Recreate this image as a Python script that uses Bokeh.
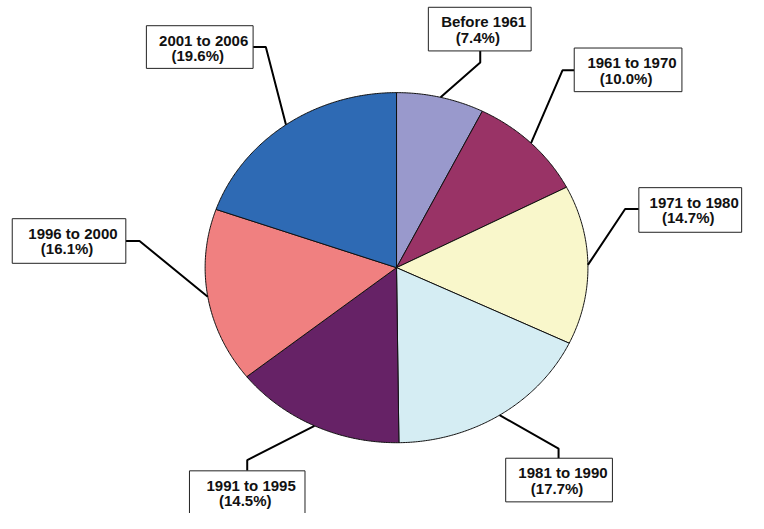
import math
from bokeh.plotting import figure
from bokeh.models import Range1d, ColumnDataSource
from bokeh.embed import file_html
from bokeh.resources import INLINE
from bokeh.core.properties import value

# ---- data ----
categories = ["Before 1961", "1961 to 1970", "1971 to 1980", "1981 to 1990",
              "1991 to 1995", "1996 to 2000", "2001 to 2006"]
shares = [7.4, 10.0, 14.7, 17.7, 14.5, 16.1, 19.6]
colors = ["#9999CC", "#993366", "#F9F7CB", "#D5EDF3", "#662266", "#F08080", "#2E6AB4"]

# ---- layout (reference pixel frame, y downwards) ----
CX, CY, RX, RY = 404.5, 275.5, 195.5, 180.5
box_left = [437, 586, 652, 516, 193, 12, 149]
box_right = [542, 696, 757, 625, 311, 128, 258]
box_top = [7, 49, 193, 472, 485, 225, 26]
box_bottom = [52, 94, 239, 517, 545, 271, 70]
anchor_x = [490, 586, 652, 570, 252, 128, 258]
anchor_y = [52, 72, 215, 472, 485, 248, 48]
elbow_x = [490, 574, 638, 570, 252, 142, 271]
elbow_y = [64, 72, 215, 462, 474, 248, 48]

p = figure(width=748, height=513, x_range=Range1d(0, 764), y_range=Range1d(529, 0),
           output_backend="svg", toolbar_location=None, min_border=0)
p.axis.visible = False
p.grid.visible = False
p.outline_line_color = None
p.background_fill_color = "white"
p.border_fill_color = "white"

total = sum(shares)
xs, ys, mids = [], [], []
cum = 0.0
for s in shares:
    a0 = cum / total * 2 * math.pi
    cum += s
    a1 = cum / total * 2 * math.pi
    n = max(8, int((a1 - a0) / math.radians(0.5)))
    px = [CX]
    py = [CY]
    for i in range(n + 1):
        t = a0 + (a1 - a0) * i / n
        px.append(CX + RX * math.sin(t))
        py.append(CY - RY * math.cos(t))
    xs.append(px)
    ys.append(py)
    mids.append((a0 + a1) / 2)

p.patches(xs=xs, ys=ys, fill_color=colors, line_color="#111111", line_width=1)

# leader lines
lx, ly = [], []
for i, m in enumerate(mids):
    ex = CX + RX * math.sin(m)
    ey = CY - RY * math.cos(m)
    lx.append([anchor_x[i], elbow_x[i], ex])
    ly.append([anchor_y[i], elbow_y[i], ey])
p.multi_line(xs=lx, ys=ly, line_color="black", line_width=2)

# label boxes
p.quad(left=box_left, right=box_right, top=box_top, bottom=box_bottom,
       fill_color="white", line_color="#222222", line_width=1)

cxs = [(l + r) / 2 for l, r in zip(box_left, box_right)]
line1_x = [c + 4 for c in cxs]
line2_x = [c - 2 for c in cxs]
line1_y = [t + 15 for t in box_top]
line2_y = [t + 31 for t in box_top]
pct = ["(%.1f%%)" % s for s in shares]

p.text(x=line1_x, y=line1_y, text=categories, text_font=value("Liberation Sans"),
       text_font_style="bold", text_font_size="15px", text_align="center",
       text_baseline="middle", text_color="#111111")
p.text(x=line2_x, y=line2_y, text=pct, text_font=value("Liberation Sans"),
       text_font_style="bold", text_font_size="15px", text_align="center",
       text_baseline="middle", text_color="#111111")

open("out.html", "w").write(file_html(p, INLINE))
